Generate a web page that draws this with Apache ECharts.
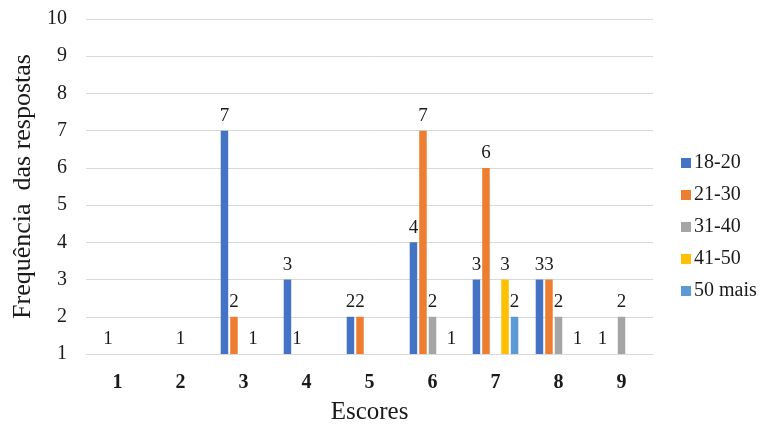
<!DOCTYPE html>
<html>
<head>
<meta charset="utf-8">
<script src="https://cdn.jsdelivr.net/npm/echarts@6/dist/echarts.min.js"></script>
<style>
  html, body { margin: 0; padding: 0; background: #ffffff; }
  #chart { width: 761px; height: 430px; }
</style>
</head>
<body>
<div id="chart"></div>
<script>
// Escores (categories on the x axis)
const categories = ['1', '2', '3', '4', '5', '6', '7', '8', '9'];

// Age groups
const seriesNames = ['18-20', '21-30', '31-40', '41-50', '50 mais'];

// Response frequency per score, one array per age group (null = no answer)
const grp18to20 = [null, null, 7, 3, 2, 4, 3, 3, 1];
const grp21to30 = [1, null, 2, 1, 2, 7, 6, 3, null];
const grp31to40 = [null, 1, null, null, null, 2, null, 2, 2];
const grp41to50 = [null, null, 1, null, null, null, 3, null, null];
const grp50mais = [null, null, null, null, null, 1, 2, 1, null];

const seriesValues = [grp18to20, grp21to30, grp31to40, grp41to50, grp50mais];
const seriesColors = ['#4472C4', '#ED7D31', '#A5A5A5', '#FFC000', '#5B9BD5'];

const FONT = '"Liberation Serif", "Times New Roman", serif';
const TEXT = '#1a1a1a';

const chart = echarts.init(document.getElementById('chart'), null, { renderer: 'canvas' });

chart.setOption({
  animation: false,
  backgroundColor: '#ffffff',
  textStyle: { fontFamily: FONT },
  grid: { left: 86, right: 108, top: 19, bottom: 76, containLabel: false },
  legend: {
    orient: 'vertical',
    left: 676,
    top: 148,
    itemWidth: 10,
    itemHeight: 10,
    itemGap: 12,
    icon: 'rect',
    data: seriesNames,
    textStyle: { fontFamily: FONT, fontSize: 20, color: TEXT, padding: [0, 0, 0, -2] }
  },
  xAxis: {
    type: 'category',
    data: categories,
    name: 'Escores',
    nameLocation: 'middle',
    nameGap: 46,
    nameTextStyle: { fontFamily: FONT, fontSize: 25, color: TEXT },
    axisLine: { show: true, lineStyle: { color: '#d9d9d9', width: 1 } },
    axisTick: { show: false },
    axisLabel: { fontFamily: FONT, fontSize: 20, fontWeight: 'bold', color: TEXT, margin: 19 }
  },
  yAxis: {
    type: 'value',
    min: 1,
    max: 10,
    interval: 1,
    name: 'Frequência  das respostas',
    nameLocation: 'middle',
    nameGap: 50,
    nameTextStyle: { fontFamily: FONT, fontSize: 26, color: TEXT },
    axisLine: { show: false },
    axisTick: { show: false },
    axisLabel: { fontFamily: FONT, fontSize: 20, color: TEXT, margin: 19 },
    splitLine: { lineStyle: { color: '#d9d9d9', width: 1 } }
  },
  series: seriesNames.map((name, i) => ({
    name: name,
    type: 'bar',
    data: seriesValues[i],
    barWidth: 7.5,
    barGap: '27%',
    itemStyle: { color: seriesColors[i] },
    label: {
      show: true,
      position: 'top',
      distance: 5,
      fontFamily: FONT,
      fontSize: 19,
      color: TEXT
    }
  }))
});
</script>
</body>
</html>
